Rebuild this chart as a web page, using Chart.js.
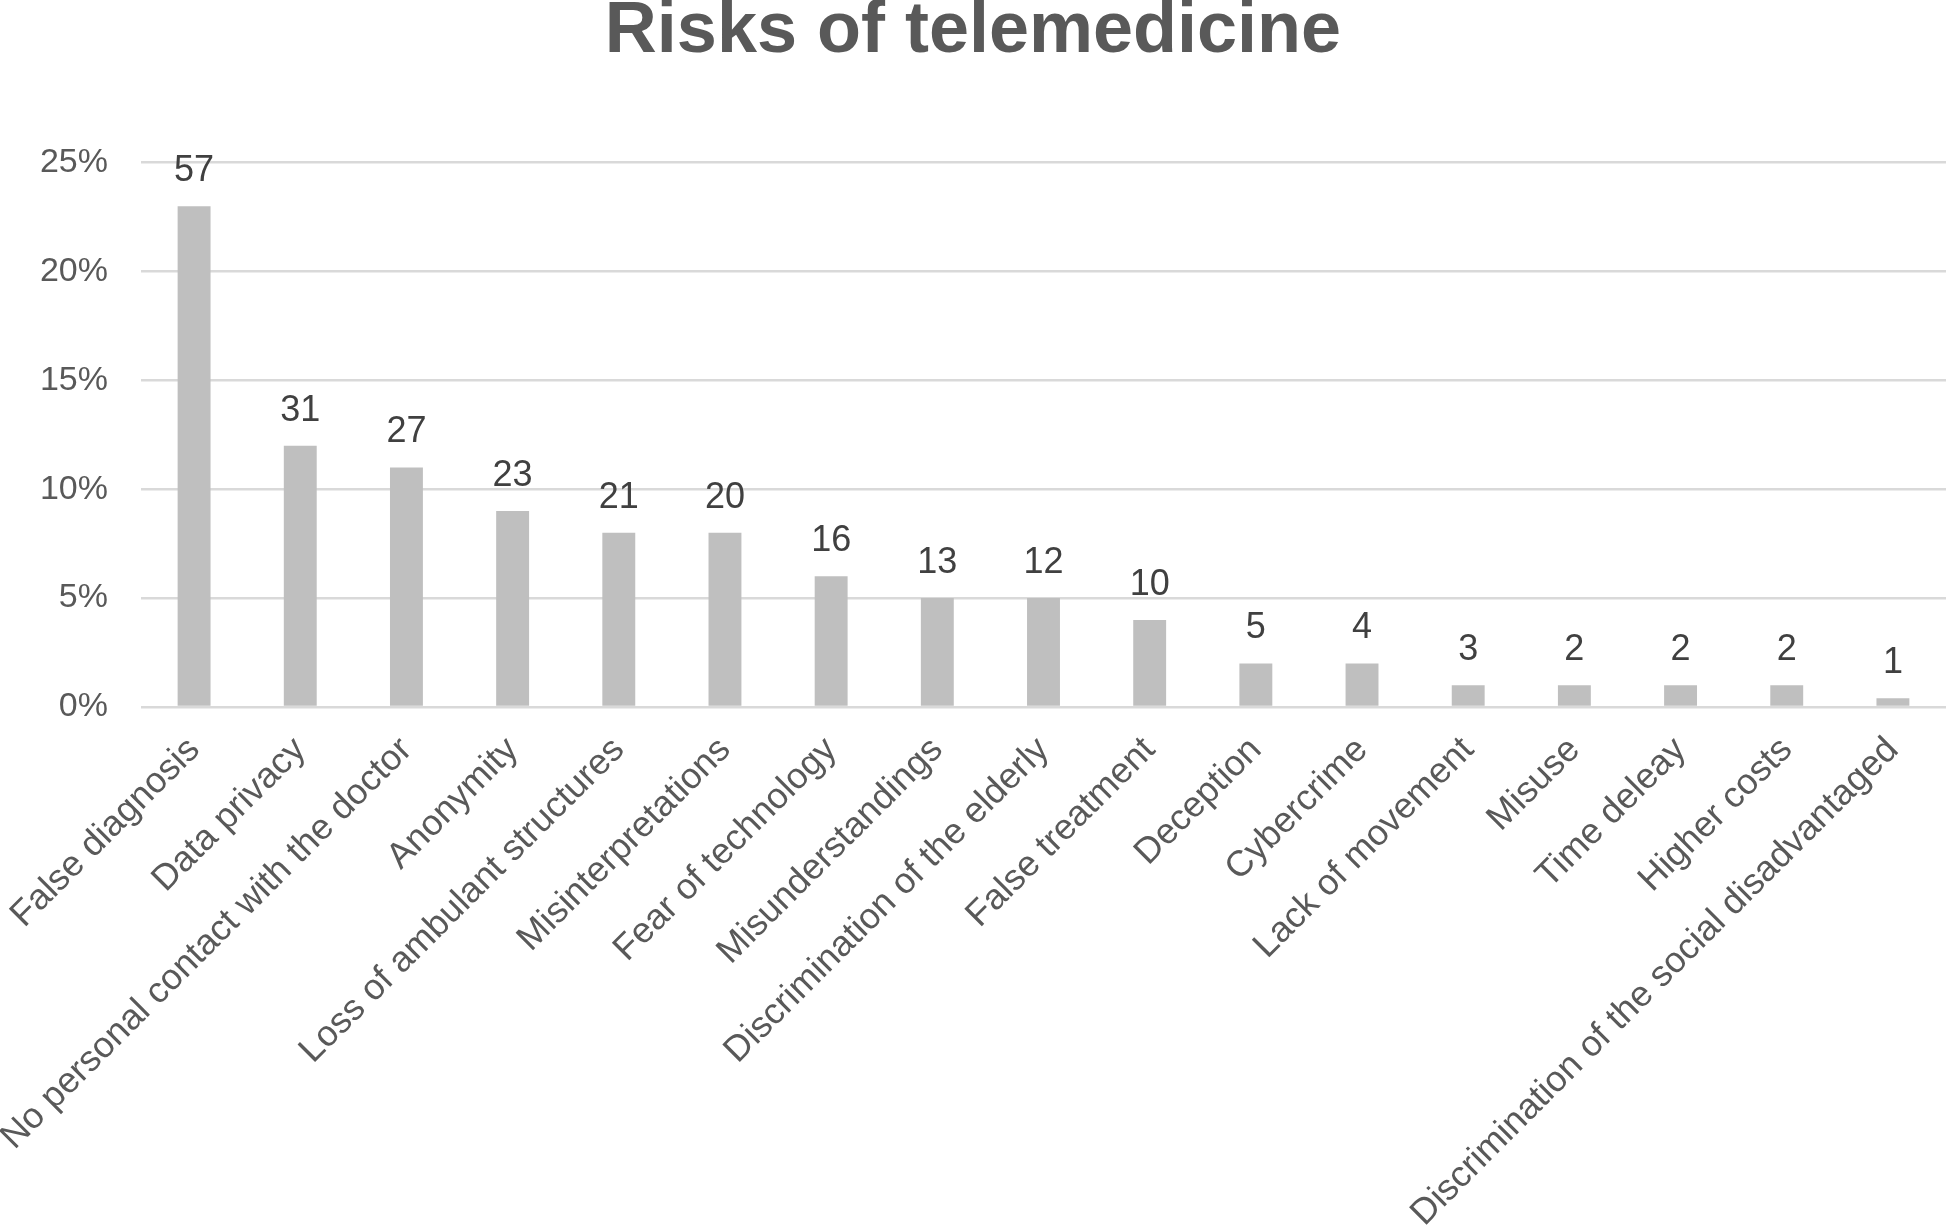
<!DOCTYPE html>
<html>
<head>
<meta charset="utf-8">
<script src="https://cdn.jsdelivr.net/npm/chart.js@4.4.0/dist/chart.umd.min.js"></script>
<style>
body { margin: 0; background: #fff; }
</style>
</head>
<body>
<canvas id="riskChart" width="1946" height="1225"></canvas>
<script>
const riskLabels = [
  'False diagnosis',
  'Data privacy',
  'No personal contact with the doctor',
  'Anonymity',
  'Loss of ambulant structures',
  'Misinterpretations',
  'Fear of technology',
  'Misunderstandings',
  'Discrimination of the elderly',
  'False treatment',
  'Deception',
  'Cybercrime',
  'Lack of movement',
  'Misuse',
  'Time deleay',
  'Higher costs',
  'Discrimination of the social disadvantaged'
]
// share of answers in %
const riskPercent = [23, 12, 11, 9, 8, 8, 6, 5, 5, 4, 2, 2, 1, 1, 1, 1, 0.4]
// number of answers, printed above the bars
const riskCounts = [57, 31, 27, 23, 21, 20, 16, 13, 12, 10, 5, 4, 3, 2, 2, 2, 1]
const yTicks = [0, 5, 10, 15, 20, 25]

const fontName = "'Liberation Sans', Arial, sans-serif"

// draws the counts on top of each bar
const countLabels = {
  id: 'countLabels',
  afterDatasetsDraw(chart) {
    const ctx = chart.ctx
    const meta = chart.getDatasetMeta(0)
    ctx.save()
    ctx.font = '36px ' + fontName
    ctx.fillStyle = '#404040'
    ctx.textAlign = 'center'
    ctx.textBaseline = 'alphabetic'
    meta.data.forEach(function(bar, i) {
      ctx.fillText(riskCounts[i], bar.x, bar.y - 25)
    })
    ctx.restore()
  }
}

const data = {
  labels: riskLabels,
  datasets: [{
    label: 'Risks of telemedicine',
    data: riskPercent,
    backgroundColor: '#bfbfbf',
    categoryPercentage: 1,
    barPercentage: 0.31
  }]
}

const config = {
  type: 'bar',
  data: data,
  plugins: [countLabels],
  options: {
    responsive: false,
    animation: false,
    devicePixelRatio: 1,
    layout: {
      padding: 0
    },
    plugins: {
      legend: { display: false },
      tooltip: { enabled: false },
      title: {
        display: true,
        text: 'Risks of telemedicine',
        color: '#595959',
        font: { family: fontName, size: 72, weight: 'bold', lineHeight: 0.8 },
        padding: { top: 3, bottom: 102 }
      }
    },
    scales: {
      x: {
        grid: { display: false },
        border: { display: false },
        afterFit: function(scale) {
          scale.paddingLeft = 0
          scale.paddingRight = 0
          scale.height = 518
        },
        ticks: {
          color: '#595959',
          font: { family: fontName, size: 36 },
          maxRotation: 45,
          minRotation: 45,
          autoSkip: false,
          padding: 14
        }
      },
      y: {
        min: 0,
        max: 25,
        afterBuildTicks: function(axis) {
          axis.ticks = yTicks.map(function(v) { return { value: v } })
        },
        afterFit: function(scale) {
          scale.width = 141
        },
        grid: { color: '#d9d9d9', lineWidth: 2.5, drawTicks: false },
        border: { display: false },
        ticks: {
          color: '#595959',
          font: { family: fontName, size: 34 },
          padding: 33,
          callback: function(v) { return v + '%' }
        }
      }
    }
  }
}

let ctx = document.getElementById('riskChart').getContext('2d')
new Chart(ctx, config)
</script>
</body>
</html>
